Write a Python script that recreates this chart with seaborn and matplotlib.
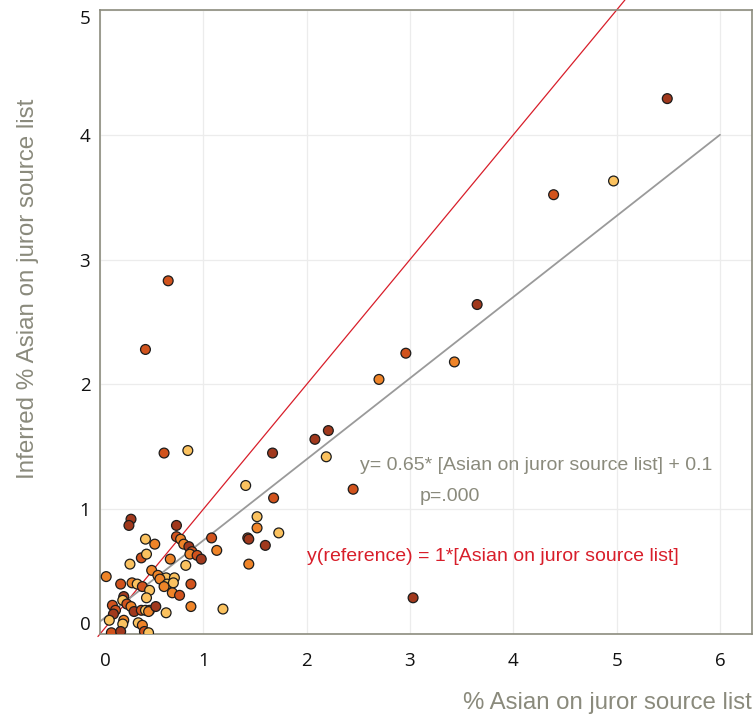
import numpy as np
import pandas as pd
import matplotlib
matplotlib.use("Agg")
import matplotlib.pyplot as plt
import seaborn as sns

# ---- data ----
x_vals = [5.49, 4.97, 4.39, 3.65, 3.43, 2.96, 2.70, 2.21, 2.08, 2.19, 1.67, 2.45, 3.03,
          0.66, 0.44, 0.62, 0.85, 1.41, 1.68, 1.52, 1.52, 1.73, 1.08, 1.43, 1.44, 1.60,
          1.13, 1.44, 1.19,
          0.30, 0.28, 0.74, 0.44, 0.53, 0.74, 0.78, 0.81, 0.86, 0.89, 0.87, 0.94, 0.98,
          0.40, 0.45, 0.68, 0.83, 0.29, 0.50, 0.56, 0.64, 0.72, 0.58, 0.65, 0.62, 0.71,
          0.06, 0.20, 0.31, 0.36, 0.41, 0.48, 0.88, 0.70, 0.77, 0.45, 0.23, 0.22, 0.26,
          0.30, 0.33, 0.12, 0.15, 0.13, 0.40, 0.44, 0.48, 0.47, 0.54, 0.64, 0.88, 0.09,
          0.23, 0.22, 0.37, 0.41, 0.43, 0.47, 0.11, 0.20]
y_vals = [4.29, 3.63, 3.52, 2.64, 2.18, 2.25, 2.04, 1.63, 1.56, 1.42, 1.45, 1.16, 0.29,
          2.83, 2.28, 1.45, 1.47, 1.19, 1.09, 0.94, 0.85, 0.81, 0.77, 0.77, 0.76, 0.71,
          0.67, 0.56, 0.20,
          0.92, 0.87, 0.87, 0.76, 0.72, 0.78, 0.76, 0.72, 0.70, 0.66, 0.64, 0.63, 0.60,
          0.61, 0.64, 0.60, 0.55, 0.56, 0.51, 0.47, 0.45, 0.45, 0.44, 0.40, 0.38, 0.41,
          0.46, 0.40, 0.41, 0.40, 0.38, 0.35, 0.40, 0.33, 0.31, 0.29, 0.30, 0.27, 0.24,
          0.22, 0.18, 0.23, 0.19, 0.16, 0.19, 0.19, 0.19, 0.18, 0.22, 0.17, 0.22, 0.11,
          0.11, 0.08, 0.09, 0.07, 0.02, 0.01, 0.01, 0.02]
groups = ["D", "Y", "R", "D", "O", "R", "O", "D", "D", "Y", "D", "R", "D",
          "R", "R", "R", "Y", "Y", "R", "Y", "O", "Y", "R", "R", "D", "D",
          "O", "O", "Y",
          "D", "D", "D", "Y", "O", "R", "O", "O", "D", "R", "O", "R", "D",
          "R", "Y", "O", "Y", "Y", "O", "O", "Y", "Y", "O", "Y", "O", "Y",
          "O", "R", "O", "Y", "R", "Y", "R", "O", "R", "Y", "D", "Y", "R",
          "O", "D", "R", "R", "D", "R", "Y", "Y", "O", "D", "Y", "O", "Y",
          "O", "Y", "Y", "O", "R", "Y", "R", "D"]

fit_slope, fit_intercept = 0.65, 0.1
ref_slope = 1.0
x_ticks = [0, 1, 2, 3, 4, 5, 6]
y_ticks = [0, 1, 2, 3, 4, 5]

palette = {"Y": "#fbc25f", "O": "#ef8428", "R": "#d1531d", "D": "#a1391d"}

df = pd.DataFrame({"x": x_vals, "y": y_vals, "g": groups})

sns.set_style("white")
plt.rcParams["font.family"] = ["Open Sans", "DejaVu Sans"]
narrow = ["Liberation Sans Narrow", "Liberation Sans", "DejaVu Sans"]

fig = plt.figure(figsize=(7.56, 7.24), dpi=100)
ax = fig.add_axes([100 / 756, 1 - 634 / 724, 652 / 756, 624 / 724])

ax.set_xlim(0, 6.31)
ax.set_ylim(0, 5.0)
ax.set_xticks(x_ticks)
ax.set_yticks(y_ticks)
ax.grid(True, color="#ececec", linewidth=0.9)
ax.set_axisbelow(True)

# reference and fitted lines
rx = np.array([-0.02, 5.08])
ax.plot(rx, ref_slope * rx, color="#d81e2a", linewidth=0.9, clip_on=False, zorder=2)
fx = np.array([0.0, 6.0])
ax.plot(fx, fit_slope * fx + fit_intercept, color="#9a9a9a", linewidth=1.3, zorder=2)

sns.scatterplot(data=df, x="x", y="y", hue="g", palette=palette, legend=False,
                s=50, edgecolor="#1c1c1c", linewidth=0.9, ax=ax, zorder=3)

for sp in ax.spines.values():
    sp.set_color("#8c8c7e")
    sp.set_linewidth(1.2)

ax.tick_params(axis="both", length=0, labelsize=13.5, labelcolor="#111111")
ax.tick_params(axis="x", pad=13)
ax.tick_params(axis="y", pad=7)
ylabs = ax.get_yticklabels()
ylabs[0].set_va("bottom")
ylabs[-1].set_va("top")
xlabs = ax.get_xticklabels()
xlabs[0].set_ha("left")

ax.set_xlabel("% Asian on juror source list", fontsize=17.3, color="#8a8a7c", family=narrow)
ax.xaxis.label.set(ha="right", va="center")
ax.xaxis.set_label_coords(1.0, -0.11)
ax.set_ylabel("Inferred % Asian on juror source list", fontsize=17.4, color="#8a8a7c",
              family=narrow)
ax.yaxis.label.set(ha="center", va="center", rotation_mode="anchor")
ax.yaxis.set_label_coords(-0.11, 0.553)

ax.text(2.52, 1.35, "y= 0.65* [Asian on juror source list] + 0.1", fontsize=14,
        color="#8a8a7c", family=narrow, ha="left", va="center")
ax.text(3.09, 1.10, "p=.000", fontsize=14, color="#8a8a7c", family=narrow,
        ha="left", va="center")
ax.text(2.0, 0.62, "y(reference) = 1*[Asian on juror source list]", fontsize=14,
        color="#d81e2a", family=narrow, ha="left", va="center")

fig.savefig("out.png", dpi=100)
